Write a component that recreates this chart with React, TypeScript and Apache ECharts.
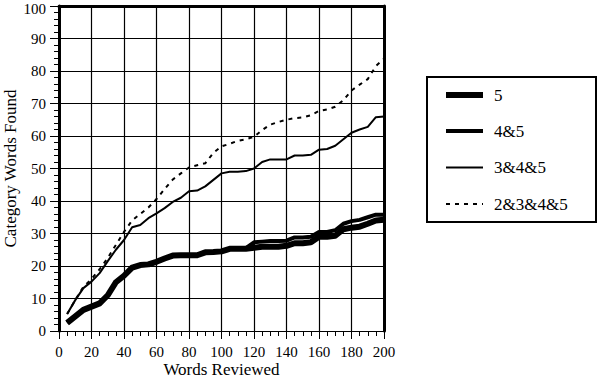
import React, { useEffect, useRef } from "react";
import * as echarts from "echarts";

const wordsReviewed = [5, 10, 15, 20, 25, 30, 35, 40, 45, 50, 55, 60, 65, 70, 75, 80, 85, 90, 95, 100, 105, 110, 115, 120, 125, 130, 135, 140, 145, 150, 155, 160, 165, 170, 175, 180, 185, 190, 195, 200];
const seriesNames = ["5", "4&5", "3&4&5", "2&3&4&5"];
const s5 = [2.5, 4.5, 6.5, 7.5, 8.5, 11, 15, 17, 19.5, 20.3, 20.5, 21.3, 22.3, 23.2, 23.3, 23.3, 23.3, 24.2, 24.3, 24.5, 25.3, 25.3, 25.3, 25.6, 25.9, 25.9, 25.9, 26.2, 27, 27, 27.3, 29, 29, 29.3, 31.3, 31.8, 32.1, 33, 34, 34.2];
const s45 = [2.5, 4.5, 6.5, 7.5, 8.5, 11, 15, 17, 19.5, 20.3, 20.5, 21.3, 22.3, 23.2, 23.3, 23.3, 23.3, 24.2, 24.3, 24.5, 25.3, 25.3, 25.5, 27.3, 27.5, 27.7, 27.7, 27.8, 28.8, 28.8, 29, 30.5, 30.5, 31, 33, 33.8, 34.2, 35, 35.8, 35.8];
const s345 = [5.2, 9.5, 13.2, 15.2, 17.8, 21.5, 25, 28, 31.9, 32.6, 34.7, 36.2, 37.8, 39.7, 41, 43, 43.2, 44.5, 46.5, 48.5, 49, 49, 49.2, 50, 52, 52.8, 52.8, 52.8, 54, 54, 54.2, 55.8, 56, 57, 59, 61, 62, 62.8, 65.8, 66];
const s2345 = [5.2, 9.5, 13.6, 16, 19, 22.5, 26.5, 30.5, 34, 36, 38, 40.6, 43.7, 46.6, 48.5, 50.3, 51, 51.6, 54.8, 56.8, 57.6, 58.5, 59, 59.8, 61.8, 63.5, 64.3, 65, 65.5, 65.7, 66.4, 67.7, 68.2, 69, 71, 74, 75.8, 77.5, 81.5, 83.8];
const xTicks = [0, 20, 40, 60, 80, 100, 120, 140, 160, 180, 200];
const yTicks = [0, 10, 20, 30, 40, 50, 60, 70, 80, 90, 100];

const FONT = "Liberation Serif";

const lineWidths = [6, 4, 2, 2];
const lineTypes: any[] = ["solid", "solid", "solid", [4, 5]];

export default function App() {
  const ref = useRef<HTMLDivElement>(null);
  useEffect(() => {
    if (!ref.current) return;
    const chart = echarts.init(ref.current, undefined, { renderer: "svg" });
    const all = [s5, s45, s345, s2345];
    const series = seriesNames.map((name, i) => ({
      name,
      type: "line",
      xAxisIndex: 0,
      yAxisIndex: 0,
      symbol: "none",
      showSymbol: false,
      z: 10 - i,
      lineStyle: { color: "#000", width: lineWidths[i], type: lineTypes[i], cap: "butt", join: "round" },
      itemStyle: { color: "#000" },
      data: wordsReviewed.map((x, j) => [x, all[i][j]]),
    }));
    const xMin = xTicks[0];
    const xMax = xTicks[xTicks.length - 1];
    const yMin = yTicks[0];
    const yMax = yTicks[yTicks.length - 1];

    const legX = 427, legY = 77, legW = 169, legH = 145;
    const rowY = [95, 131, 167.5, 204];
    const legendChildren: any[] = [
      { type: "rect", shape: { x: legX, y: legY, width: legW, height: legH }, style: { fill: "#fff", stroke: "#000", lineWidth: 2 } },
    ];
    seriesNames.forEach((name, i) => {
      legendChildren.push({
        type: "line",
        shape: { x1: 446, y1: rowY[i], x2: 483, y2: rowY[i] },
        style: { stroke: "#000", lineWidth: lineWidths[i], lineDash: Array.isArray(lineTypes[i]) ? lineTypes[i] : null },
      });
      legendChildren.push({
        type: "text",
        x: 494,
        y: rowY[i],
        style: { text: name, fontFamily: FONT, fontSize: 17, fill: "#000", verticalAlign: "middle", align: "left" },
      });
    });

    const frameAxis = {
      type: "value",
      axisLine: { show: true, onZero: false, lineStyle: { color: "#000", width: 3 } },
      axisTick: { show: false },
      minorTick: { show: false },
      axisLabel: { show: false },
      splitLine: { show: false },
      minorSplitLine: { show: false },
    };

    chart.setOption({
      animation: false,
      backgroundColor: "#fff",
      textStyle: { fontFamily: FONT },
      grid: { left: 59, top: 6, right: 214, bottom: 47, show: false, containLabel: false, outerBoundsMode: "none" },
      xAxis: [
        {
          type: "value",
          min: xMin,
          max: xMax,
          interval: 20,
          position: "bottom",
          name: "Words Reviewed",
          nameLocation: "middle",
          nameGap: 31,
          nameMoveOverlap: false,
          nameTextStyle: { fontFamily: FONT, fontSize: 17, color: "#000", lineHeight: 15 },
          axisLine: { show: true, onZero: false, lineStyle: { color: "#000", width: 1 } },
          axisTick: { show: true, length: 8, lineStyle: { color: "#000", width: 1 } },
          minorTick: { show: true, splitNumber: 4, length: 5, lineStyle: { color: "#000", width: 1 } },
          splitLine: { show: true, lineStyle: { color: "#000", width: 1.2, type: "solid", opacity: 1 } },
          axisLabel: { fontFamily: FONT, fontSize: 15, color: "#000", margin: 13 },
        },
        { ...frameAxis, min: xMin, max: xMax, interval: 20, position: "top" },
      ],
      yAxis: [
        {
          type: "value",
          min: yMin,
          max: yMax,
          interval: 10,
          position: "left",
          name: "Category Words Found",
          nameLocation: "middle",
          nameGap: 41,
          nameMoveOverlap: false,
          nameTextStyle: { fontFamily: FONT, fontSize: 17, color: "#000", lineHeight: 16 },
          axisLine: { show: true, onZero: false, lineStyle: { color: "#000", width: 3 } },
          axisTick: { show: true, length: 9, lineStyle: { color: "#000", width: 1 } },
          minorTick: { show: true, splitNumber: 5, length: 5, lineStyle: { color: "#000", width: 1 } },
          splitLine: { show: true, lineStyle: { color: "#000", width: 1.2, type: "solid", opacity: 1 } },
          axisLabel: {
            fontFamily: FONT,
            fontSize: 15,
            color: "#000",
            margin: 13,
            lineHeight: 11,
            formatter: (v: number) => (v === yMax ? "{top|" + v + "}" : String(v)),
            rich: { top: { fontFamily: FONT, fontSize: 15, color: "#000", lineHeight: 11, padding: [5, 0, 0, 0] } },
          },
        },
        { ...frameAxis, min: yMin, max: yMax, interval: 10, position: "right" },
      ],
      graphic: [{ type: "group", children: legendChildren }],
      series,
    });
    return () => chart.dispose();
  }, []);
  return <div ref={ref} style={{ position: "fixed", left: 0, top: 0, width: 598, height: 378 }} />;
}
